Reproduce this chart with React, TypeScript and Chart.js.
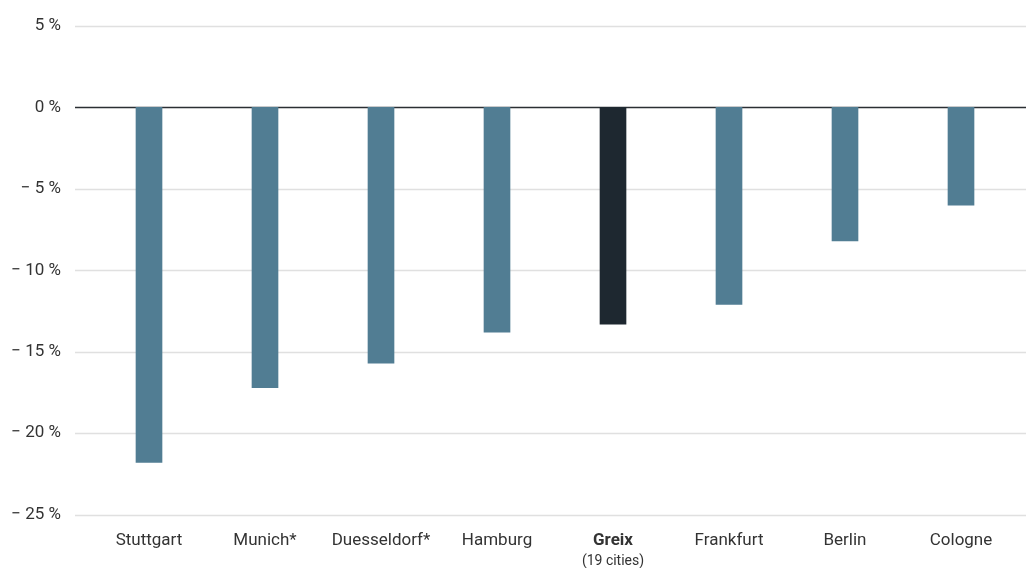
import React, { useEffect, useRef } from "react";
import { Chart, registerables } from "chart.js";

Chart.register(...registerables);

const categories = ["Stuttgart", "Munich*", "Duesseldorf*", "Hamburg", "Greix", "Frankfurt", "Berlin", "Cologne"];
const changeValues = [-21.8, -17.2, -15.7, -13.8, -13.3, -12.1, -8.2, -6.0];
const highlightIndex = 4;
const highlightSubLabel = "(19 cities)";
const yTickValues = [5, 0, -5, -10, -15, -20, -25];

const BAR_COLOR = "#517d93";
const HIGHLIGHT_COLOR = "#1e2830";
const TEXT_COLOR = "#333333";
const FONT = "Roboto";

const formatPct = (v: number) => (v < 0 ? "\u2212 " + Math.abs(v) + " %" : v + " %");

const gridPlugin = {
  id: "customGrid",
  beforeDatasetsDraw(chart: any) {
    const ctx = chart.ctx;
    const y = chart.scales.y;
    const left = chart.chartArea.left - 16;
    const right = chart.width;
    ctx.save();
    yTickValues.forEach((v) => {
      const py = Math.round(y.getPixelForValue(v)) + 0.5;
      ctx.beginPath();
      ctx.strokeStyle = v === 0 ? "#2b2f33" : "#e0e0e0";
      ctx.lineWidth = 1.3;
      ctx.moveTo(left, py);
      ctx.lineTo(right, py);
      ctx.stroke();
    });
    ctx.restore();
  },
  afterDraw(chart: any) {
    const ctx = chart.ctx;
    const x = chart.scales.x;
    const px = x.getPixelForValue(highlightIndex);
    ctx.save();
    ctx.fillStyle = TEXT_COLOR;
    ctx.font = `14px ${FONT}`;
    ctx.textAlign = "center";
    ctx.textBaseline = "middle";
    ctx.fillText(highlightSubLabel, px, chart.chartArea.bottom + 47);
    ctx.restore();
  },
};

export default function App() {
  const canvasRef = useRef<HTMLCanvasElement | null>(null);

  useEffect(() => {
    if (!canvasRef.current) return;
    const chart = new Chart(canvasRef.current, {
      type: "bar",
      data: {
        labels: categories,
        datasets: [
          {
            data: changeValues,
            backgroundColor: categories.map((_, i) => (i === highlightIndex ? HIGHLIGHT_COLOR : BAR_COLOR)),
            barThickness: 26,
            borderWidth: 0,
          },
        ],
      },
      options: {
        animation: false,
        responsive: true,
        maintainAspectRatio: false,
        layout: { padding: { top: 26, right: 7, bottom: 1, left: 0 } },
        plugins: { legend: { display: false }, tooltip: { enabled: false } },
        scales: {
          x: {
            grid: { display: false, drawTicks: false },
            border: { display: false },
            ticks: {
              color: TEXT_COLOR,
              padding: 16,
              maxRotation: 0,
              autoSkip: false,
              font: (ctx: any) => ({
                family: FONT,
                size: 17,
                weight: ctx.index === highlightIndex ? "bold" : "normal",
              }),
            },
          },
          y: {
            min: -25,
            max: 5,
            grid: { display: false, drawTicks: false },
            border: { display: false },
            afterFit: (scale: any) => {
              scale.width = 91;
              scale.paddingTop = 0;
              scale.paddingBottom = 0;
            },
            ticks: {
              stepSize: 5,
              color: TEXT_COLOR,
              padding: 30,
              font: { family: FONT, size: 17 },
              callback: (v: any) => formatPct(Number(v)),
            },
          },
        },
      },
      plugins: [gridPlugin],
    });
    return () => chart.destroy();
  }, []);

  return (
    <div style={{ position: "fixed", left: 0, top: 0, width: 1026, height: 568, background: "#fff" }}>
      <canvas ref={canvasRef} />
    </div>
  );
}
